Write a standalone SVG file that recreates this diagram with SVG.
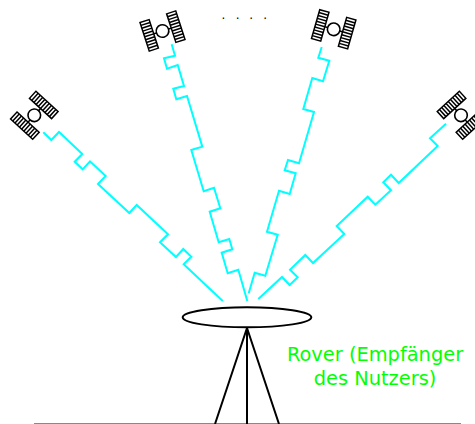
<svg xmlns="http://www.w3.org/2000/svg" width="475" height="424" viewBox="0 0 475 424">
<style>
.sig{fill:none;stroke:#00ffff;stroke-width:2}
.blk{fill:none;stroke:#000;stroke-width:2}
.panel{fill:#fff;stroke:#000;stroke-width:1.5}
.lbl{font-family:"DejaVu Sans",sans-serif;font-size:19.4px;fill:#00ff00;text-anchor:middle;opacity:.99}
.dots{font-family:"DejaVu Sans",sans-serif;font-size:12px;fill:#000;opacity:.99}
</style>
<defs>
<g id="sat">
<path class="blk" d="M-9 0H-6M6 0H9" style="stroke-width:1.5"/>
<circle class="blk" r="6.3" style="stroke-width:1.6"/>
<g id="pl">
<rect class="panel" x="-18.8" y="-15" width="9.6" height="30"/>
<path class="panel" d="M-18.8 -12H-9.2M-18.8 -9H-9.2M-18.8 -6H-9.2M-18.8 -3H-9.2M-18.8 0H-9.2M-18.8 3H-9.2M-18.8 6H-9.2M-18.8 9H-9.2M-18.8 12H-9.2"/>
</g>
<use href="#pl" transform="translate(28 0)"/>
</g>
</defs>
<g id="connectors">
<polyline class="sig" points="43.3,132.3 51.3,140 59,132 82.3,154 74.7,161.7 82.7,169.3 90,161.3 105.7,176 98,184 129.3,213 136.7,205 168,234.3 160,242.3 176,257 183.3,249 191.3,256.7 183.7,264.3 222.7,301"/>
<polyline class="sig" points="171.7,44.3 175,55.7 164,58.3 167,68.7 177.7,65 184,86 173.3,88.7 176.3,99.3 187,96 202.3,146.7 191.3,150 203.7,191.3 214,187.7 220.3,208.3 209.7,211.7 218.7,242.3 229.3,239 232.3,249.3 221.7,252.7 227.7,273.3 238.3,269.7 247.3,301"/>
<polyline class="sig" points="321.7,47 318.3,57.7 329.3,60.7 323,81.3 312.3,78 303.3,109 314,112 299,163.3 288,160 284.7,170.3 295.7,173.3 289.7,194 279,190.7 267,231.7 277.7,234.7 265.3,275.7 254.7,272.7 248.7,293.3"/>
<polyline class="sig" points="446,123.7 430,138.3 437.7,146 398.7,183 391,174.7 383.3,182.3 391,190.3 375.3,204.7 367.7,196.7 336.7,226 344.3,234 313,263 305.3,255 290,269.7 297.7,277.3 289.7,285 282,277 258.3,299"/>
</g>
<g id="sat1"><use href="#sat" transform="translate(34.3 115.3) rotate(-47.5)"/></g>
<g id="sat2"><use href="#sat" transform="translate(162.5 31) rotate(-18)"/></g>
<g id="sat3"><use href="#sat" transform="translate(333.7 29.3) rotate(16)"/></g>
<g id="sat4"><use href="#sat" transform="translate(461 115.3) rotate(47.5)"/></g>
<g id="dots"><text class="dots" x="221.5 235.8 249.3 263.2" y="19">....</text></g>
<g id="ground"><line x1="34" y1="423.5" x2="461" y2="423.5" stroke="#888" stroke-width="1"/></g>
<g id="rover">
<ellipse class="blk" cx="247" cy="317.3" rx="64.3" ry="10"/>
<path class="blk" d="M247 328L215 424M247 328V424M247 328L279 424"/>
<text class="lbl" x="375" y="360.5">Rover (Empfänger</text>
<text class="lbl" x="375" y="385">des Nutzers)</text>
</g>
</svg>
